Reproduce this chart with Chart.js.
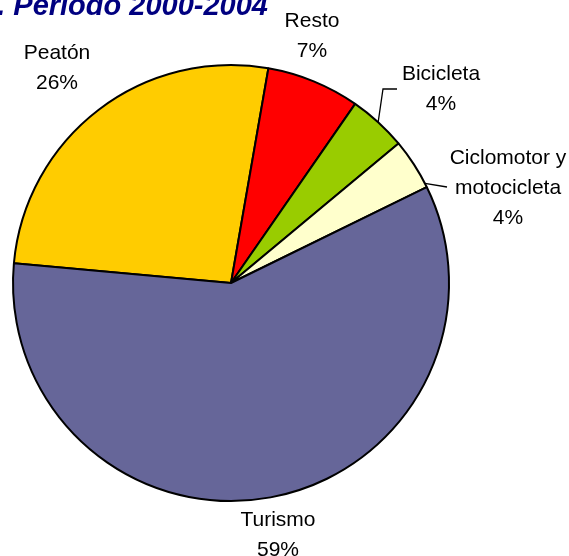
<!DOCTYPE html>
<html>
<head>
<meta charset="utf-8">
<script src="https://cdn.jsdelivr.net/npm/chart.js@4/dist/chart.umd.min.js"></script>
<style>
  html, body { margin: 0; padding: 0; background: #fff; }
  canvas { display: block; }
</style>
</head>
<body>
<canvas id="pieChart" width="569" height="556"></canvas>
<script>
// values (percent of victims)
const categories = ["Peatón", "Resto", "Bicicleta", "Ciclomotor y motocicleta", "Turismo"];
const shares = [26.3, 6.9, 4.3, 3.8, 58.7];
const percentLabels = ["26%", "7%", "4%", "4%", "59%"];
const sliceColors = ["#FFCC00", "#FF0000", "#99CC00", "#FFFFCC", "#666699"];

// text lines and where they sit
const labelLines = [
    ["Peatón", percentLabels[0]],
    ["Resto", percentLabels[1]],
    ["Bicicleta", percentLabels[2]],
    ["Ciclomotor y", "motocicleta", percentLabels[3]],
    ["Turismo", percentLabels[4]]
];
const labelPos = [
    { x: 57, y: 53 },
    { x: 312, y: 21 },
    { x: 441, y: 74 },
    { x: 508, y: 158 },
    { x: 278, y: 520 }
];

const labelPlugin = {
    id: "pieLabels",
    afterDraw(chart) {
        const ctx = chart.ctx;
        const arcs = chart.getDatasetMeta(0).data;
        ctx.save();

        // title (cut at the left, like the original)
        ctx.fillStyle = "#000080";
        ctx.font = "bold italic 29px 'Liberation Sans', Arial, sans-serif";
        ctx.textAlign = "right";
        ctx.textBaseline = "alphabetic";
        ctx.fillText(". Período 2000-2004", 268, 15);

        // leader lines
        ctx.strokeStyle = "#000";
        ctx.lineWidth = 1.3;
        const bici = arcs[2];
        const bMid = (bici.startAngle + bici.endAngle) / 2;
        ctx.beginPath();
        ctx.moveTo(bici.x + Math.cos(bMid) * bici.outerRadius, bici.y + Math.sin(bMid) * bici.outerRadius);
        ctx.lineTo(383, 89);
        ctx.lineTo(397, 89);
        ctx.stroke();

        const ciclo = arcs[3];
        const cAng = ciclo.startAngle + (ciclo.endAngle - ciclo.startAngle) * 0.92;
        ctx.beginPath();
        ctx.moveTo(ciclo.x + Math.cos(cAng) * ciclo.outerRadius, ciclo.y + Math.sin(cAng) * ciclo.outerRadius);
        ctx.lineTo(447, 187);
        ctx.stroke();

        // category labels
        ctx.fillStyle = "#000";
        ctx.font = "21px 'Liberation Sans', Arial, sans-serif";
        ctx.textAlign = "center";
        ctx.textBaseline = "middle";
        labelLines.forEach((lines, i) => {
            lines.forEach((t, j) => {
                ctx.fillText(t, labelPos[i].x, labelPos[i].y + j * 30);
            });
        });
        ctx.restore();
    }
};

document.addEventListener("DOMContentLoaded", function () {
    const ctx = document.getElementById("pieChart").getContext("2d");
    new Chart(ctx, {
        type: "pie",
        data: {
            labels: categories,
            datasets: [{
                data: shares,
                backgroundColor: sliceColors,
                borderColor: "#000",
                borderWidth: 2,
                borderAlign: "center"
            }]
        },
        options: {
            responsive: false,
            animation: false,
            rotation: -84.8,
            layout: { padding: { left: 12, right: 119, top: 64, bottom: 54 } },
            plugins: {
                legend: { display: false },
                tooltip: { enabled: false },
                title: { display: false }
            }
        },
        plugins: [labelPlugin]
    });
});
</script>
</body>
</html>
